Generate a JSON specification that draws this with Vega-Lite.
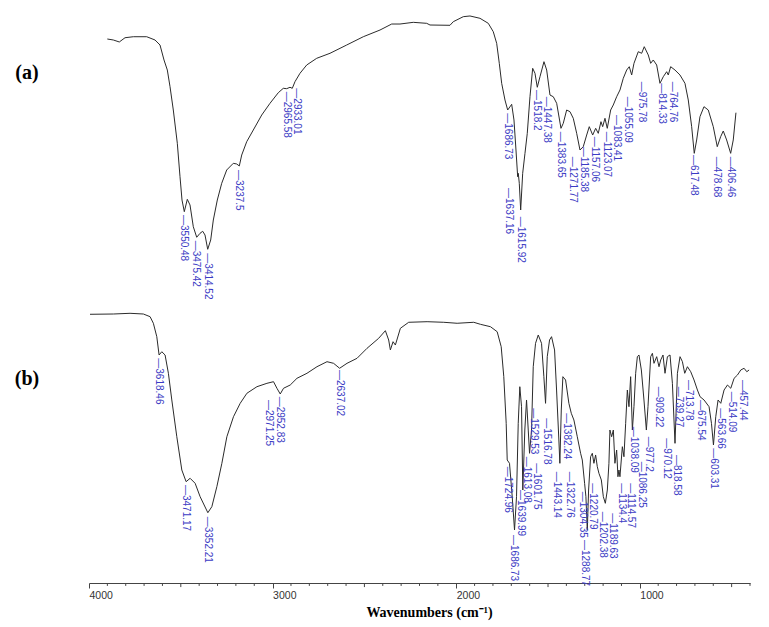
{
  "$schema": "https://vega.github.io/schema/vega-lite/v6.json",
  "width": 661,
  "height": 583,
  "autosize": {"type": "none"},
  "padding": {"left": 89, "top": 0, "right": 19, "bottom": 44},
  "background": "white",
  "config": {"view": {"stroke": null}},
  "datasets": {
    "sa": [
      {"wn":3992.8,"t":93.31},{"wn":3958.3,"t":93.14},{"wn":3923.8,"t":92.80},{"wn":3891.1,"t":93.53},{"wn":3843.4,"t":93.70},{"wn":3766.5,"t":93.70},{"wn":3718.8,"t":93.14},{"wn":3690.1,"t":92.28},{"wn":3667.1,"t":89.71},{"wn":3648.1,"t":87.99},{"wn":3632.6,"t":85.13},{"wn":3613.7,"t":81.13},{"wn":3590.7,"t":75.42},{"wn":3575.2,"t":69.69},{"wn":3563.7,"t":65.69},{"wn":3550.5,"t":63.69},{"wn":3533.3,"t":65.81},{"wn":3517.8,"t":64.84},{"wn":3498.8,"t":61.11},{"wn":3479.3,"t":59.30},{"wn":3460.3,"t":59.98},{"wn":3444.8,"t":60.33},{"wn":3431.6,"t":59.69},{"wn":3416.1,"t":57.24},{"wn":3398.9,"t":58.83},{"wn":3383.9,"t":62.26},{"wn":3361.0,"t":65.69},{"wn":3335.7,"t":68.56},{"wn":3307.0,"t":70.84},{"wn":3269.1,"t":71.99},{"wn":3249.5,"t":71.87},{"wn":3234.6,"t":71.53},{"wn":3220.8,"t":73.41},{"wn":3192.1,"t":75.69},{"wn":3154.2,"t":77.70},{"wn":3105.9,"t":80.27},{"wn":3058.3,"t":82.28},{"wn":3010.6,"t":84.10},{"wn":2981.9,"t":84.85},{"wn":2962.3,"t":84.79},{"wn":2943.4,"t":85.03},{"wn":2930.2,"t":84.85},{"wn":2914.7,"t":85.99},{"wn":2886.0,"t":87.43},{"wn":2847.5,"t":88.85},{"wn":2790.0,"t":90.00},{"wn":2713.6,"t":90.86},{"wn":2617.7,"t":92.28},{"wn":2522.4,"t":93.70},{"wn":2426.4,"t":94.85},{"wn":2359.2,"t":95.88},{"wn":2311.6,"t":95.88},{"wn":2235.2,"t":96.17},{"wn":2158.2,"t":96.00},{"wn":2139.2,"t":95.71},{"wn":2024.4,"t":95.66},{"wn":2005.4,"t":96.28},{"wn":1948.0,"t":97.14},{"wn":1909.5,"t":97.26},{"wn":1852.1,"t":96.86},{"wn":1804.4,"t":96.00},{"wn":1775.7,"t":94.56},{"wn":1756.2,"t":92.57},{"wn":1741.2,"t":89.14},{"wn":1727.4,"t":85.71},{"wn":1708.5,"t":82.85},{"wn":1693.0,"t":81.13},{"wn":1670.0,"t":82.11},{"wn":1656.8,"t":79.42},{"wn":1645.3,"t":74.27},{"wn":1635.5,"t":69.69},{"wn":1632.1,"t":70.27},{"wn":1626.3,"t":68.56},{"wn":1618.3,"t":63.98},{"wn":1606.8,"t":70.27},{"wn":1593.6,"t":73.70},{"wn":1580.4,"t":77.13},{"wn":1564.9,"t":83.41},{"wn":1549.4,"t":88.28},{"wn":1536.2,"t":87.43},{"wn":1522.9,"t":85.03},{"wn":1507.4,"t":86.84},{"wn":1484.5,"t":89.42},{"wn":1468.9,"t":87.99},{"wn":1450.0,"t":83.70},{"wn":1431.0,"t":83.41},{"wn":1411.5,"t":82.28},{"wn":1386.8,"t":77.99},{"wn":1373.6,"t":78.85},{"wn":1354.1,"t":81.13},{"wn":1335.1,"t":80.84},{"wn":1316.2,"t":79.71},{"wn":1296.6,"t":77.13},{"wn":1277.7,"t":74.27},{"wn":1258.7,"t":74.84},{"wn":1239.2,"t":76.84},{"wn":1224.3,"t":78.27},{"wn":1204.7,"t":76.84},{"wn":1187.5,"t":77.99},{"wn":1172.6,"t":77.13},{"wn":1157.1,"t":79.13},{"wn":1147.3,"t":78.27},{"wn":1134.1,"t":79.71},{"wn":1120.9,"t":77.99},{"wn":1101.4,"t":81.13},{"wn":1086.4,"t":81.99},{"wn":1066.9,"t":83.41},{"wn":1047.9,"t":84.56},{"wn":1029.0,"t":86.57},{"wn":1009.4,"t":87.99},{"wn":994.5,"t":88.56},{"wn":980.7,"t":87.14},{"wn":967.5,"t":89.14},{"wn":942.8,"t":91.13},{"wn":923.3,"t":90.86},{"wn":908.4,"t":91.99},{"wn":885.4,"t":90.57},{"wn":871.6,"t":89.14},{"wn":856.7,"t":89.71},{"wn":837.1,"t":88.85},{"wn":818.2,"t":85.71},{"wn":799.2,"t":86.84},{"wn":779.7,"t":87.70},{"wn":770.5,"t":87.14},{"wn":756.7,"t":88.56},{"wn":732.0,"t":87.99},{"wn":703.3,"t":87.14},{"wn":674.6,"t":85.71},{"wn":655.6,"t":82.85},{"wn":636.1,"t":78.27},{"wn":621.2,"t":73.70},{"wn":607.4,"t":75.99},{"wn":588.4,"t":79.98},{"wn":565.4,"t":81.70},{"wn":540.7,"t":81.13},{"wn":512.0,"t":78.27},{"wn":489.1,"t":74.84},{"wn":469.6,"t":76.55},{"wn":454.6,"t":77.53},{"wn":435.1,"t":75.99},{"wn":412.1,"t":73.70},{"wn":397.2,"t":75.99},{"wn":381.7,"t":80.67}
    ],
    "sb": [
      {"wn":3994.5,"t":46.09},{"wn":3867.5,"t":46.14},{"wn":3776.4,"t":46.26},{"wn":3703.9,"t":46.14},{"wn":3667.4,"t":45.68},{"wn":3649.4,"t":44.55},{"wn":3630.8,"t":42.25},{"wn":3618.3,"t":39.11},{"wn":3603.6,"t":39.67},{"wn":3585.6,"t":39.11},{"wn":3567.6,"t":35.97},{"wn":3549.0,"t":31.39},{"wn":3521.8,"t":25.09},{"wn":3494.5,"t":19.38},{"wn":3471.1,"t":17.38},{"wn":3449.3,"t":17.96},{"wn":3422.0,"t":17.10},{"wn":3394.7,"t":14.80},{"wn":3352.7,"t":12.06},{"wn":3330.9,"t":13.09},{"wn":3303.7,"t":16.52},{"wn":3276.4,"t":20.53},{"wn":3249.1,"t":25.09},{"wn":3213.1,"t":28.52},{"wn":3176.6,"t":30.82},{"wn":3140.1,"t":32.54},{"wn":3085.5,"t":33.67},{"wn":3031.0,"t":34.25},{"wn":2995.0,"t":34.53},{"wn":2976.5,"t":33.40},{"wn":2958.5,"t":32.42},{"wn":2940.5,"t":33.40},{"wn":2904.0,"t":33.96},{"wn":2867.4,"t":35.11},{"wn":2812.9,"t":35.97},{"wn":2758.4,"t":37.10},{"wn":2703.8,"t":37.96},{"wn":2667.8,"t":37.68},{"wn":2635.1,"t":36.83},{"wn":2594.8,"t":37.68},{"wn":2540.3,"t":38.54},{"wn":2485.7,"t":40.26},{"wn":2422.5,"t":41.97},{"wn":2385.9,"t":43.28},{"wn":2367.9,"t":41.68},{"wn":2358.7,"t":39.97},{"wn":2344.0,"t":41.39},{"wn":2331.4,"t":40.82},{"wn":2304.1,"t":43.69},{"wn":2258.9,"t":44.72},{"wn":2158.6,"t":44.82},{"wn":2068.0,"t":44.72},{"wn":1995.0,"t":44.55},{"wn":1904.5,"t":44.72},{"wn":1867.9,"t":44.37},{"wn":1813.4,"t":43.96},{"wn":1776.9,"t":43.10},{"wn":1755.1,"t":40.53},{"wn":1740.9,"t":35.39},{"wn":1727.8,"t":27.39},{"wn":1722.3,"t":21.10},{"wn":1709.8,"t":20.53},{"wn":1695.0,"t":14.80},{"wn":1682.5,"t":9.09},{"wn":1671.6,"t":14.80},{"wn":1662.3,"t":27.39},{"wn":1653.6,"t":33.67},{"wn":1644.3,"t":30.24},{"wn":1637.3,"t":15.95},{"wn":1626.4,"t":26.24},{"wn":1617.0,"t":31.39},{"wn":1607.8,"t":26.24},{"wn":1600.7,"t":22.25},{"wn":1589.8,"t":26.24},{"wn":1580.5,"t":37.10},{"wn":1568.0,"t":41.11},{"wn":1553.3,"t":42.54},{"wn":1535.3,"t":41.11},{"wn":1522.7,"t":35.39},{"wn":1513.5,"t":30.82},{"wn":1504.2,"t":38.82},{"wn":1491.7,"t":41.68},{"wn":1480.8,"t":42.25},{"wn":1464.4,"t":39.97},{"wn":1453.5,"t":33.10},{"wn":1441.0,"t":24.53},{"wn":1435.5,"t":20.53},{"wn":1427.9,"t":29.67},{"wn":1419.1,"t":35.39},{"wn":1404.4,"t":34.82},{"wn":1386.4,"t":30.82},{"wn":1373.3,"t":29.11},{"wn":1359.1,"t":27.96},{"wn":1340.6,"t":25.09},{"wn":1322.6,"t":22.25},{"wn":1313.4,"t":21.10},{"wn":1300.8,"t":17.10},{"wn":1293.7,"t":14.80},{"wn":1286.1,"t":9.09},{"wn":1279.0,"t":15.95},{"wn":1268.1,"t":21.66},{"wn":1258.8,"t":22.25},{"wn":1250.1,"t":20.53},{"wn":1240.8,"t":21.96},{"wn":1231.6,"t":19.95},{"wn":1222.8,"t":18.82},{"wn":1209.7,"t":17.67},{"wn":1198.8,"t":14.80},{"wn":1187.9,"t":13.67},{"wn":1177.0,"t":15.95},{"wn":1168.3,"t":20.53},{"wn":1162.9,"t":26.24},{"wn":1153.6,"t":25.09},{"wn":1144.3,"t":26.24},{"wn":1135.6,"t":20.53},{"wn":1126.3,"t":22.81},{"wn":1119.2,"t":18.23},{"wn":1113.8,"t":19.38},{"wn":1108.3,"t":18.23},{"wn":1095.2,"t":23.38},{"wn":1086.5,"t":21.66},{"wn":1077.2,"t":27.39},{"wn":1068.0,"t":33.10},{"wn":1059.2,"t":30.24},{"wn":1050.0,"t":35.39},{"wn":1040.7,"t":26.24},{"wn":1032.0,"t":30.24},{"wn":1022.7,"t":35.97},{"wn":1013.5,"t":38.82},{"wn":1004.7,"t":39.11},{"wn":991.7,"t":36.54},{"wn":977.5,"t":31.39},{"wn":964.4,"t":26.24},{"wn":955.6,"t":30.24},{"wn":940.9,"t":38.82},{"wn":931.6,"t":39.40},{"wn":922.9,"t":37.68},{"wn":908.2,"t":38.82},{"wn":895.6,"t":37.10},{"wn":886.4,"t":38.25},{"wn":873.8,"t":39.11},{"wn":862.9,"t":35.97},{"wn":849.8,"t":38.82},{"wn":835.6,"t":39.11},{"wn":822.6,"t":34.25},{"wn":808.4,"t":23.96},{"wn":795.3,"t":35.97},{"wn":781.1,"t":38.82},{"wn":768.1,"t":37.96},{"wn":755.5,"t":35.97},{"wn":740.8,"t":37.10},{"wn":722.8,"t":36.24},{"wn":704.8,"t":34.82},{"wn":686.3,"t":33.10},{"wn":672.1,"t":31.96},{"wn":650.3,"t":31.39},{"wn":623.0,"t":30.24},{"wn":609.9,"t":27.39},{"wn":599.0,"t":23.67},{"wn":586.5,"t":28.52},{"wn":573.9,"t":31.39},{"wn":559.2,"t":30.82},{"wn":541.2,"t":33.10},{"wn":522.7,"t":33.96},{"wn":504.7,"t":33.40},{"wn":486.7,"t":35.11},{"wn":468.2,"t":35.68},{"wn":450.2,"t":36.54},{"wn":432.2,"t":36.83},{"wn":417.4,"t":36.24},{"wn":404.9,"t":36.54}
    ],
    "la": [
      {"wn":3550.5,"t":63.12,"label":"3550.48"},{"wn":3483.3,"t":58.71,"label":"3475.42"},{"wn":3416.1,"t":56.55,"label":"3414.52"},{"wn":3234.6,"t":70.84,"label":"3237.5"},{"wn":2962.3,"t":84.27,"label":"2965.58"},{"wn":2903.2,"t":84.85,"label":"2933.01"},{"wn":1693.0,"t":80.57,"label":"1686.73"},{"wn":1685.5,"t":67.75,"label":"1637.16"},{"wn":1618.3,"t":62.83,"label":"1615.92"},{"wn":1522.9,"t":84.56,"label":"1518.2"},{"wn":1468.9,"t":83.41,"label":"1447.38"},{"wn":1386.8,"t":77.41,"label":"1383.65"},{"wn":1319.6,"t":73.12,"label":"1271.77"},{"wn":1254.7,"t":74.84,"label":"1185.38"},{"wn":1191.5,"t":76.55,"label":"1157.06"},{"wn":1124.3,"t":77.41,"label":"1123.07"},{"wn":1066.9,"t":80.27,"label":"1083.41"},{"wn":1000.3,"t":83.41,"label":"1055.09"},{"wn":923.3,"t":85.99,"label":"975.78"},{"wn":808.4,"t":85.71,"label":"814.33"},{"wn":745.2,"t":85.99,"label":"764.76"},{"wn":621.2,"t":73.41,"label":"617.48"},{"wn":489.1,"t":73.12,"label":"478.68"},{"wn":412.1,"t":73.12,"label":"406.46"}
    ],
    "lb": [
      {"wn":3618.3,"t":38.54,"label":"3618.46"},{"wn":3471.1,"t":16.81,"label":"3471.17"},{"wn":3352.7,"t":11.37,"label":"3352.21"},{"wn":3022.3,"t":31.39,"label":"2971.25"},{"wn":2958.5,"t":31.96,"label":"2952.83"},{"wn":2635.1,"t":36.54,"label":"2637.02"},{"wn":1716.9,"t":19.95,"label":"1724.96"},{"wn":1686.3,"t":8.23,"label":"1686.73"},{"wn":1649.8,"t":15.95,"label":"1639.99"},{"wn":1613.3,"t":21.66,"label":"1613.08"},{"wn":1558.7,"t":20.53,"label":"1601.75"},{"wn":1577.3,"t":29.97,"label":"1529.53"},{"wn":1508.0,"t":28.25,"label":"1516.78"},{"wn":1449.7,"t":19.09,"label":"1443.14"},{"wn":1395.1,"t":29.11,"label":"1382.24"},{"wn":1382.0,"t":19.09,"label":"1322.76"},{"wn":1310.1,"t":15.66,"label":"1304.35"},{"wn":1299.2,"t":7.38,"label":"1288.77"},{"wn":1253.4,"t":17.10,"label":"1220.79"},{"wn":1198.8,"t":12.23,"label":"1202.38"},{"wn":1144.3,"t":11.96,"label":"1189.63"},{"wn":1095.2,"t":17.10,"label":"1134.4"},{"wn":1050.0,"t":17.10,"label":"1114.57"},{"wn":990.0,"t":20.81,"label":"1086.25"},{"wn":1032.0,"t":26.81,"label":"1038.09"},{"wn":950.2,"t":25.09,"label":"977.2"},{"wn":853.7,"t":24.82,"label":"970.12"},{"wn":895.6,"t":33.67,"label":"909.22"},{"wn":795.3,"t":21.96,"label":"818.58"},{"wn":786.6,"t":33.67,"label":"739.27"},{"wn":732.1,"t":34.82,"label":"713.78"},{"wn":664.5,"t":31.39,"label":"675.54"},{"wn":595.8,"t":23.10,"label":"603.31"},{"wn":559.2,"t":29.97,"label":"563.66"},{"wn":495.4,"t":32.81,"label":"514.09"},{"wn":437.6,"t":34.82,"label":"457.44"}
    ],
    "minor": [
      {"wn":3900},{"wn":3800},{"wn":3700},{"wn":3600},{"wn":3400},{"wn":3300},{"wn":3200},{"wn":3100},{"wn":2900},{"wn":2800},{"wn":2700},{"wn":2600},{"wn":2400},{"wn":2300},{"wn":2200},{"wn":2100},{"wn":1900},{"wn":1800},{"wn":1700},{"wn":1600},{"wn":1400},{"wn":1300},{"wn":1200},{"wn":1100},{"wn":900},{"wn":800},{"wn":700},{"wn":600},{"wn":400}
    ],
    "mid": [
      {"wn":3500},{"wn":2500},{"wn":1500},{"wn":500}
    ],
    "tags": [
      {"wn":4338,"t":87.5,"tag":"(a)"},
      {"wn":4338,"t":35.0,"tag":"(b)"}
    ]
  },
  "layer": [
    {
      "layer": [
        {
          "data": {"name": "sa"},
          "mark": {"type": "line", "color": "#2b2b2b", "strokeWidth": 1},
          "encoding": {
            "x": {"field": "wn", "type": "quantitative", "scale": {"domain": [4098, 301], "nice": false, "zero": false}, "axis": null},
            "y": {"field": "t", "type": "quantitative", "scale": {"domain": [0, 100], "nice": false, "zero": false}, "axis": null}
          }
        },
        {
          "data": {"name": "la"},
          "transform": [{"calculate": "'—' + datum.label", "as": "txt"}],
          "mark": {"type": "text", "angle": 90, "align": "left", "baseline": "middle", "font": "Liberation Sans", "fontSize": 10, "color": "#3b3bc4"},
          "encoding": {
            "x": {"field": "wn", "type": "quantitative", "axis": null},
            "y": {"field": "t", "type": "quantitative", "axis": null},
            "text": {"field": "txt"}
          }
        }
      ]
    },
    {
      "layer": [
        {
          "data": {"name": "sb"},
          "mark": {"type": "line", "color": "#2b2b2b", "strokeWidth": 1},
          "encoding": {
            "x": {
              "field": "wn", "type": "quantitative",
              "scale": {"domain": [4000, 400], "nice": false, "zero": false},
              "axis": {
                "orient": "bottom",
                "title": "Wavenumbers (cm⁻¹)",
                "titleFont": "Liberation Serif", "titleFontSize": 14, "titleFontWeight": "bold", "titleColor": "#000",
                "titleY": 22, "titleBaseline": "top", "titleX": 340, "titleAlign": "center", "titleAnchor": null,
                "values": [4000, 3000, 2000, 1000],
                "format": "d",
                "labelAlign": "left", "labelBaseline": "top", "labelPadding": 2, "labelFlush": false, "labelOverlap": false,
                "labelFont": "Liberation Sans", "labelFontSize": 10.5, "labelColor": "#333",
                "grid": false, "domainColor": "#444", "domainWidth": 1, "tickColor": "#444", "tickWidth": 1, "tickSize": 5
              }
            },
            "y": {"field": "t", "type": "quantitative", "scale": {"domain": [0, 100], "nice": false, "zero": false}, "axis": null}
          }
        },
        {
          "data": {"name": "minor"},
          "mark": {"type": "rule", "color": "#444", "strokeWidth": 1},
          "encoding": {
            "x": {"field": "wn", "type": "quantitative"},
            "y": {"datum": 0},
            "y2": {"datum": -0.5}
          }
        },
        {
          "data": {"name": "mid"},
          "mark": {"type": "rule", "color": "#444", "strokeWidth": 1},
          "encoding": {
            "x": {"field": "wn", "type": "quantitative"},
            "y": {"datum": 0},
            "y2": {"datum": -0.7}
          }
        },
        {
          "data": {"name": "lb"},
          "transform": [{"calculate": "'—' + datum.label", "as": "txt"}],
          "mark": {"type": "text", "angle": 90, "align": "left", "baseline": "middle", "font": "Liberation Sans", "fontSize": 10, "color": "#3b3bc4"},
          "encoding": {
            "x": {"field": "wn", "type": "quantitative"},
            "y": {"field": "t", "type": "quantitative"},
            "text": {"field": "txt"}
          }
        },
        {
          "data": {"name": "tags"},
          "mark": {"type": "text", "align": "center", "baseline": "middle", "font": "Liberation Serif", "fontSize": 20, "fontWeight": "bold", "color": "#000"},
          "encoding": {
            "x": {"field": "wn", "type": "quantitative"},
            "y": {"field": "t", "type": "quantitative"},
            "text": {"field": "tag"}
          }
        }
      ]
    }
  ],
  "resolve": {"scale": {"x": "independent"}}
}
